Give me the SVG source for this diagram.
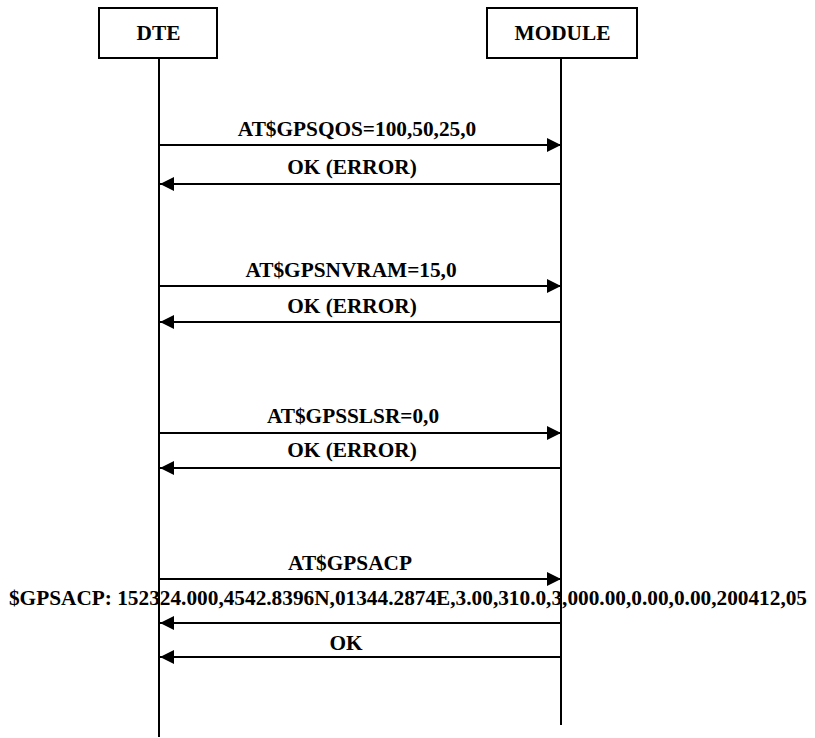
<svg xmlns="http://www.w3.org/2000/svg" width="815" height="738" viewBox="0 0 815 738">
<style>
.box{fill:#fff;stroke:#000;stroke-width:2}
.life{stroke:#000;stroke-width:2;fill:none}
.msg{stroke:#000;stroke-width:2;fill:none}
text{font-family:"Liberation Serif","Times New Roman",serif;font-weight:bold;font-size:21.3px;fill:#000;text-anchor:middle}
</style>
<defs>
<marker id="ah" viewBox="0 0 14 14" refX="14" refY="7" markerWidth="14" markerHeight="14" markerUnits="userSpaceOnUse" orient="auto">
<path d="M0,0 L14,7 L0,14 Z" fill="#000"/>
</marker>
</defs>
<g id="dte">
<rect class="box" x="99" y="8" width="118" height="50"/>
<text x="158.5" y="40">DTE</text>
<line class="life" x1="159" y1="58" x2="159" y2="737"/>
</g>
<g id="module">
<rect class="box" x="487" y="8" width="150" height="50"/>
<text x="562.5" y="40">MODULE</text>
<line class="life" x1="561" y1="58" x2="561" y2="725"/>
</g>
<g id="connectors">
<line class="msg" x1="159" y1="145" x2="561" y2="145" marker-end="url(#ah)"/>
<text x="357" y="136">AT$GPSQOS=100,50,25,0</text>
<line class="msg" x1="561" y1="184" x2="160" y2="184" marker-end="url(#ah)"/>
<text x="352" y="174">OK (ERROR)</text>
<line class="msg" x1="159" y1="286" x2="561" y2="286" marker-end="url(#ah)"/>
<text x="351" y="277">AT$GPSNVRAM=15,0</text>
<line class="msg" x1="561" y1="322" x2="160" y2="322" marker-end="url(#ah)"/>
<text x="352" y="313">OK (ERROR)</text>
<line class="msg" x1="159" y1="433" x2="561" y2="433" marker-end="url(#ah)"/>
<text x="353" y="423">AT$GPSSLSR=0,0</text>
<line class="msg" x1="561" y1="468" x2="160" y2="468" marker-end="url(#ah)"/>
<text x="352" y="457">OK (ERROR)</text>
<line class="msg" x1="159" y1="579" x2="561" y2="579" marker-end="url(#ah)"/>
<text x="350" y="570">AT$GPSACP</text>
<line class="msg" x1="561" y1="623" x2="160" y2="623" marker-end="url(#ah)"/>
<text x="408" y="605">$GPSACP: 152324.000,4542.8396N,01344.2874E,3.00,310.0,3,000.00,0.00,0.00,200412,05</text>
<line class="msg" x1="561" y1="657" x2="160" y2="657" marker-end="url(#ah)"/>
<text x="346" y="650">OK</text>
</g>
</svg>
